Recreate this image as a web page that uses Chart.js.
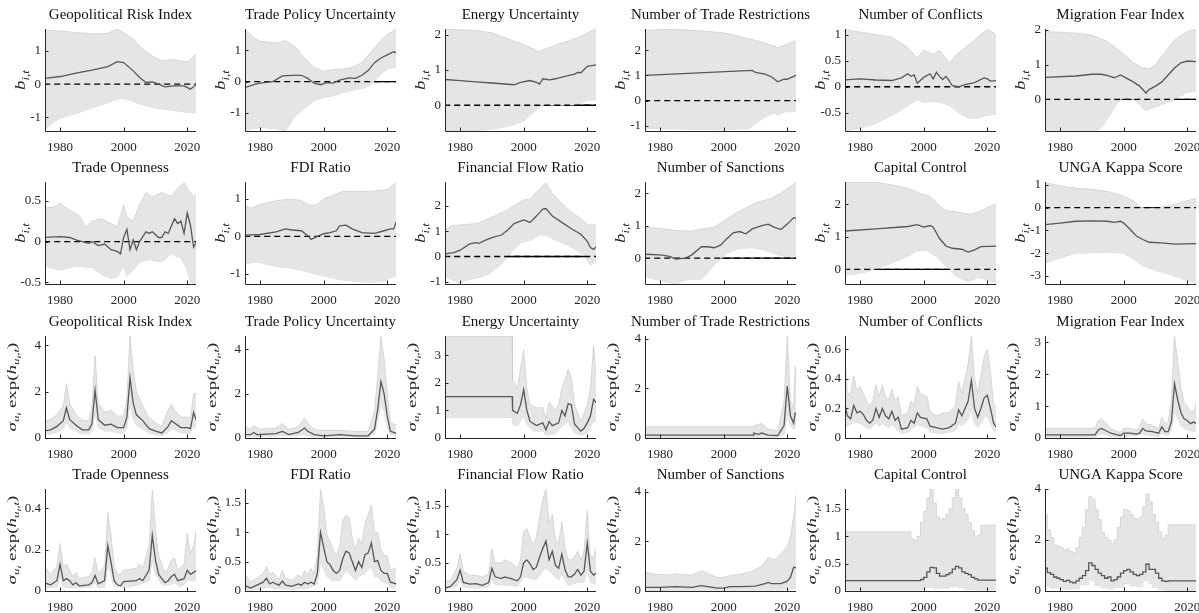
<!DOCTYPE html>
<html>
<head>
<meta charset="utf-8">
<script src="https://cdn.jsdelivr.net/npm/chart.js@4.4.1/dist/chart.umd.min.js"></script>
<style>
  html, body { margin: 0; padding: 0; background: #fff; }
  #fig { position: relative; width: 1199px; height: 613px; overflow: hidden; }
  #fig canvas { position: absolute; }
</style>
</head>
<body>
<div id="fig"></div>
<script>
// ---- data : [year, value] ----
const titles = [
  'Geopolitical Risk Index', 'Trade Policy Uncertainty', 'Energy Uncertainty',
  'Number of Trade Restrictions', 'Number of Conflicts', 'Migration Fear Index',
  'Trade Openness', 'FDI Ratio', 'Financial Flow Ratio',
  'Number of Sanctions', 'Capital Control', 'UNGA Kappa Score'
];
const xTicks = [1980, 2000, 2020];
const xRange = [1975.25, 2022.75];

// row 1-2 : b_{i,t}
const gprB_hi = [[1975,1.62],[1980,1.6],[1985,1.55],[1990,1.52],[1995,1.53],[1998,1.66],[2000,1.55],[2003,1.35],[2006,1.05],[2009,0.85],[2012,0.7],[2015,0.74],[2018,0.7],[2020,0.67],[2023,0.92]];
const gprB_med = [[1975,0.17],[1980,0.23],[1985,0.33],[1990,0.42],[1995,0.53],[1998,0.68],[2000,0.65],[2003,0.4],[2005,0.2],[2007,0.05],[2009,0.07],[2011,0.0],[2013,-0.08],[2016,-0.05],[2019,-0.05],[2021,-0.15],[2023,0.0]];
const gprB_lo = [[1975,-1.41],[1977,-1.2],[1980,-1.02],[1985,-0.88],[1990,-0.72],[1995,-0.55],[1999,-0.42],[2002,-0.48],[2005,-0.6],[2010,-0.72],[2015,-0.78],[2020,-0.85],[2023,-0.87]];

const tpuB_hi = [[1975,1.67],[1978,1.4],[1980,1.28],[1985,1.22],[1988,1.3],[1991,1.1],[1994,0.75],[1997,0.45],[2000,0.33],[2003,0.38],[2006,0.4],[2009,0.45],[2012,0.6],[2015,0.95],[2018,1.3],[2020,1.5],[2023,1.67]];
const tpuB_med = [[1975,-0.2],[1978,-0.1],[1980,-0.05],[1984,0.0],[1987,0.18],[1990,0.2],[1993,0.2],[1995,0.1],[1997,-0.05],[1999,-0.1],[2001,-0.03],[2003,-0.05],[2005,0.05],[2008,0.12],[2010,0.1],[2012,0.2],[2014,0.35],[2016,0.6],[2018,0.75],[2020,0.85],[2022,0.95],[2023,0.9]];
const tpuB_lo = [[1975,-1.55],[1980,-1.45],[1985,-1.5],[1988,-1.57],[1991,-1.1],[1994,-0.85],[1997,-0.6],[2000,-0.5],[2003,-0.45],[2006,-0.35],[2009,-0.28],[2012,-0.22],[2014,-0.15],[2016,0.0],[2018,0.25],[2020,0.4],[2023,0.45]];

const engB_hi = [[1975,2.16],[1985,2.12],[1990,2.05],[1995,1.88],[2000,1.72],[2004,1.55],[2005,1.52],[2007,1.6],[2010,1.7],[2015,1.85],[2018,1.95],[2020,2.05],[2023,2.16]];
const engB_med = [[1975,0.73],[1980,0.7],[1985,0.66],[1990,0.63],[1997,0.58],[1999,0.65],[2002,0.7],[2004,0.65],[2005,0.6],[2006,0.75],[2008,0.72],[2010,0.75],[2013,0.82],[2016,0.88],[2017,0.93],[2018,0.92],[2020,1.1],[2023,1.15]];
const engB_lo = [[1975,-0.72],[1985,-0.72],[1990,-0.68],[1995,-0.6],[2000,-0.45],[2003,-0.2],[2006,0.0],[2010,0.0],[2015,0.0],[2018,0.05],[2020,0.15],[2023,0.15]];

const trrB_hi = [[1975,2.8],[1985,2.85],[1995,2.75],[2000,2.7],[2005,2.55],[2010,2.4],[2015,2.2],[2017,2.1],[2020,2.25],[2023,2.4]];
const trrB_med = [[1975,1.0],[2009,1.2],[2010,1.12],[2013,1.05],[2015,0.95],[2017,0.75],[2019,0.85],[2020,0.85],[2023,1.02]];
const trrB_lo = [[1975,-1.1],[1995,-1.15],[2000,-1.17],[2008,-1.1],[2010,-0.9],[2013,-0.65],[2016,-0.5],[2017,-0.6],[2019,-0.45],[2023,-0.42]];

const conB_hi = [[1975,1.1],[1980,1.05],[1985,1.0],[1990,0.95],[1995,0.75],[1998,0.55],[2000,0.7],[2003,0.62],[2005,0.7],[2007,0.55],[2008,0.45],[2010,0.6],[2013,0.75],[2016,0.9],[2019,1.05],[2020,1.1],[2023,1.0]];
const conB_med = [[1975,0.13],[1980,0.15],[1985,0.13],[1990,0.12],[1993,0.17],[1995,0.25],[1996,0.2],[1997,0.23],[1998,0.07],[2000,0.18],[2002,0.25],[2003,0.15],[2004,0.28],[2005,0.2],[2006,0.14],[2007,0.2],[2008,0.12],[2009,0.02],[2011,0.0],[2013,0.04],[2016,0.08],[2019,0.17],[2020,0.15],[2021,0.11],[2023,0.12]];
const conB_lo = [[1975,-0.85],[1980,-0.8],[1985,-0.7],[1990,-0.55],[1994,-0.4],[1998,-0.25],[2000,-0.3],[2003,-0.28],[2005,-0.3],[2008,-0.35],[2011,-0.5],[2014,-0.6],[2017,-0.6],[2020,-0.55],[2023,-0.52]];

const migB_hi = [[1975,1.95],[1985,1.9],[1990,1.85],[1995,1.65],[2000,1.3],[2003,1.05],[2006,0.9],[2008,0.88],[2010,1.0],[2013,1.35],[2016,1.7],[2020,1.95],[2023,2.02]];
const migB_med = [[1975,0.63],[1985,0.67],[1990,0.72],[1993,0.72],[1995,0.68],[1997,0.62],[1999,0.7],[2001,0.6],[2003,0.5],[2005,0.38],[2007,0.18],[2008,0.28],[2010,0.38],[2012,0.5],[2014,0.7],[2016,0.9],[2018,1.05],[2020,1.1],[2023,1.08]];
const migB_lo = [[1975,-0.91],[1992,-0.9],[1994,-0.7],[1996,-0.4],[1998,-0.1],[2000,0.05],[2002,0.03],[2004,-0.05],[2006,-0.25],[2007,-0.32],[2009,-0.25],[2012,-0.15],[2015,-0.05],[2018,0.1],[2020,0.2],[2023,0.25]];

const topB_hi = [[1975,0.42],[1978,0.42],[1980,0.47],[1983,0.38],[1986,0.32],[1988,0.18],[1990,0.25],[1993,0.28],[1996,0.22],[1998,0.18],[2000,0.45],[2001,0.3],[2003,0.25],[2005,0.45],[2007,0.6],[2009,0.55],[2012,0.6],[2015,0.55],[2017,0.65],[2019,0.72],[2020,0.65],[2022,0.55],[2023,0.6]];
const topB_med = [[1975,0.05],[1980,0.06],[1983,0.05],[1985,0.02],[1987,0.0],[1989,-0.02],[1990,0.0],[1992,-0.05],[1994,-0.03],[1996,-0.1],[1998,-0.12],[1999,-0.15],[2000,0.05],[2001,0.15],[2002,-0.1],[2003,0.02],[2004,-0.1],[2005,0.0],[2007,0.12],[2008,0.1],[2009,0.12],[2011,0.05],[2012,0.05],[2013,0.12],[2014,0.1],[2016,0.28],[2017,0.22],[2018,0.25],[2019,0.1],[2020,0.35],[2021,0.2],[2022,-0.07],[2023,0.0]];
const topB_lo = [[1975,-0.3],[1980,-0.35],[1985,-0.3],[1990,-0.32],[1993,-0.4],[1996,-0.45],[1998,-0.43],[2000,-0.3],[2001,-0.42],[2003,-0.35],[2005,-0.25],[2008,-0.22],[2012,-0.25],[2015,-0.15],[2018,-0.2],[2020,-0.35],[2021,-0.5],[2023,-0.52]];

const fdiB_hi = [[1975,0.85],[1977,0.75],[1980,0.85],[1985,0.95],[1990,1.0],[1993,0.95],[1996,0.82],[1998,0.85],[2000,1.0],[2003,1.1],[2006,1.2],[2010,1.2],[2015,1.2],[2020,1.25],[2023,1.45]];
const fdiB_med = [[1975,0.03],[1980,0.05],[1985,0.12],[1988,0.2],[1990,0.17],[1993,0.15],[1995,0.02],[1996,-0.08],[1998,0.0],[2000,0.07],[2002,0.1],[2004,0.15],[2005,0.28],[2007,0.3],[2009,0.2],[2012,0.1],[2016,0.08],[2019,0.15],[2021,0.2],[2022,0.2],[2023,0.42]];
const fdiB_lo = [[1975,-0.75],[1978,-0.68],[1980,-0.7],[1985,-0.8],[1990,-0.85],[1995,-0.95],[2000,-1.05],[2005,-1.15],[2010,-1.2],[2015,-1.22],[2019,-1.2],[2021,-1.1],[2023,-1.05]];

const ffrB_hi = [[1975,1.0],[1977,1.2],[1980,1.25],[1985,1.3],[1990,1.55],[1995,1.85],[2000,2.25],[2002,2.25],[2004,2.55],[2006,2.8],[2007,2.92],[2009,2.5],[2012,2.1],[2015,1.75],[2018,1.5],[2020,1.25],[2023,1.25]];
const ffrB_med = [[1975,0.1],[1978,0.15],[1980,0.25],[1983,0.5],[1985,0.55],[1986,0.52],[1988,0.65],[1990,0.75],[1993,0.85],[1995,1.05],[1997,1.3],[2000,1.45],[2002,1.35],[2004,1.6],[2006,1.88],[2007,1.9],[2009,1.6],[2012,1.35],[2015,1.1],[2018,0.88],[2020,0.6],[2021,0.35],[2022,0.28],[2023,0.4]];
const ffrB_lo = [[1975,-0.75],[1977,-0.9],[1980,-1.05],[1983,-0.9],[1985,-0.85],[1988,-0.75],[1990,-0.6],[1993,-0.3],[1996,0.15],[1999,0.55],[2001,0.6],[2003,0.7],[2005,0.85],[2007,0.85],[2010,0.65],[2013,0.5],[2016,0.3],[2019,0.05],[2021,-0.35],[2023,-0.2]];

const sanB_hi = [[1975,0.95],[1980,0.92],[1985,0.85],[1990,0.83],[1993,0.9],[1997,0.95],[2000,1.15],[2005,1.45],[2010,1.7],[2015,1.85],[2018,2.0],[2020,2.15],[2023,2.35]];
const sanB_med = [[1975,0.12],[1980,0.1],[1983,0.05],[1985,-0.03],[1988,0.0],[1990,0.1],[1993,0.35],[1995,0.35],[1997,0.32],[1999,0.4],[2001,0.6],[2003,0.78],[2005,0.82],[2007,0.75],[2009,0.9],[2012,1.0],[2014,1.05],[2016,0.95],[2018,0.88],[2020,1.05],[2022,1.25],[2023,1.22]];
const sanB_lo = [[1975,-0.55],[1980,-0.7],[1985,-0.8],[1989,-0.65],[1993,-0.65],[1995,-0.45],[1998,-0.1],[2001,0.15],[2005,0.3],[2009,0.32],[2013,0.25],[2017,0.1],[2020,0.05],[2023,0.1]];

const capB_hi = [[1975,2.68],[1985,2.68],[1990,2.6],[1995,2.5],[2000,2.3],[2002,2.25],[2004,2.05],[2007,1.8],[2010,1.78],[2013,1.72],[2015,1.7],[2018,1.8],[2020,1.9],[2023,2.02]];
const capB_med = [[1975,1.18],[1985,1.25],[1995,1.32],[1998,1.38],[2000,1.3],[2002,1.35],[2003,1.3],[2005,0.95],[2007,0.72],[2009,0.65],[2012,0.62],[2014,0.53],[2016,0.6],[2018,0.7],[2023,0.72]];
const capB_lo = [[1975,-0.18],[1980,-0.12],[1985,0.0],[1990,0.2],[1995,0.4],[1998,0.58],[2001,0.58],[2004,0.4],[2007,0.1],[2010,-0.2],[2014,-0.38],[2017,-0.25],[2019,-0.28],[2023,-0.45]];

const ungB_hi = [[1975,1.1],[1980,0.95],[1985,0.85],[1990,0.8],[1995,0.7],[2000,0.5],[2003,0.3],[2005,0.05],[2007,-0.05],[2010,-0.02],[2015,0.1],[2020,0.3],[2023,0.4]];
const ungB_med = [[1975,-0.75],[1980,-0.68],[1985,-0.6],[1990,-0.58],[1995,-0.6],[1997,-0.65],[1999,-0.6],[2000,-0.68],[2002,-0.95],[2004,-1.25],[2006,-1.4],[2008,-1.52],[2012,-1.55],[2016,-1.6],[2023,-1.58]];
const ungB_lo = [[1975,-2.45],[1980,-2.2],[1985,-2.0],[1990,-1.98],[1995,-1.95],[2000,-2.0],[2003,-2.25],[2006,-2.55],[2010,-2.75],[2015,-2.95],[2020,-3.2],[2023,-3.35]];

// row 3-4 : sigma_{u_i} exp(h_{u_i,t})
const gprS_hi = [[1975,0.75],[1977,0.8],[1979,1.0],[1981,1.4],[1982,2.35],[1983,1.5],[1985,1.0],[1987,0.75],[1989,0.75],[1990,1.3],[1991,3.55],[1992,1.5],[1994,1.1],[1996,1.2],[1998,0.95],[2000,0.95],[2001,1.7],[2002,4.4],[2003,2.9],[2004,2.0],[2006,1.4],[2008,0.85],[2010,0.65],[2012,0.5],[2014,1.2],[2015,1.45],[2016,1.2],[2018,0.9],[2020,0.9],[2021,0.85],[2022,1.9],[2023,1.95]];
const gprS_med = [[1975,0.3],[1977,0.35],[1979,0.5],[1981,0.75],[1982,1.3],[1983,0.8],[1985,0.55],[1987,0.35],[1989,0.35],[1990,0.6],[1991,2.05],[1992,0.8],[1994,0.55],[1996,0.6],[1998,0.45],[2000,0.45],[2001,0.9],[2002,2.6],[2003,1.5],[2004,1.0],[2006,0.75],[2008,0.4],[2010,0.3],[2012,0.22],[2014,0.5],[2015,0.75],[2016,0.65],[2018,0.45],[2020,0.45],[2021,0.4],[2022,1.1],[2023,0.7]];
const gprS_lo = [[1975,0.15],[1977,0.18],[1979,0.25],[1981,0.4],[1982,0.7],[1983,0.45],[1985,0.3],[1987,0.18],[1989,0.18],[1990,0.3],[1991,1.1],[1992,0.45],[1994,0.3],[1996,0.3],[1998,0.22],[2000,0.22],[2001,0.45],[2002,1.5],[2003,0.8],[2004,0.55],[2006,0.4],[2008,0.2],[2010,0.15],[2012,0.1],[2014,0.25],[2015,0.4],[2016,0.35],[2018,0.22],[2020,0.22],[2021,0.2],[2022,0.55],[2023,0.3]];

const tpuS_hi = [[1975,0.5],[1977,0.4],[1978,0.55],[1980,0.4],[1985,0.45],[1987,0.65],[1989,0.4],[1992,0.5],[1994,0.9],[1996,0.5],[1998,0.35],[2005,0.35],[2010,0.3],[2014,0.3],[2016,1.2],[2017,2.8],[2018,4.6],[2019,3.6],[2020,2.0],[2021,0.7],[2023,0.55]];
const tpuS_med = [[1975,0.15],[1977,0.15],[1978,0.25],[1979,0.15],[1985,0.2],[1987,0.3],[1989,0.15],[1992,0.25],[1994,0.45],[1995,0.3],[1997,0.15],[2000,0.1],[2005,0.15],[2010,0.1],[2014,0.1],[2016,0.4],[2017,1.3],[2018,2.55],[2019,2.0],[2020,1.0],[2021,0.3],[2023,0.2]];
const tpuS_lo = [[1975,0.05],[1987,0.1],[1994,0.15],[1997,0.05],[2014,0.04],[2016,0.2],[2017,0.8],[2018,1.5],[2019,1.2],[2020,0.5],[2021,0.15],[2023,0.1]];

const engS_hi = [[1975,3.7],[1996.4,3.7],[1996.5,2.1],[1998,1.8],[1999,2.5],[2000,3.2],[2001,1.8],[2002,1.2],[2004,1.1],[2006,1.1],[2007,0.7],[2008,1.3],[2010,1.0],[2011,1.2],[2012,1.8],[2013,2.1],[2014,2.5],[2015,2.2],[2016,1.2],[2018,0.6],[2019,0.9],[2020,1.2],[2021,1.8],[2022,3.35],[2023,2.0]];
const engS_med = [[1975,1.5],[1996.4,1.5],[1996.5,1.0],[1998,0.9],[1999,1.2],[2000,1.75],[2001,1.0],[2002,0.6],[2004,0.45],[2006,0.55],[2007,0.3],[2008,0.6],[2009,0.45],[2011,0.55],[2012,1.0],[2013,0.8],[2014,1.25],[2015,1.2],[2016,0.5],[2018,0.25],[2019,0.35],[2020,0.55],[2021,0.8],[2022,1.4],[2023,1.25]];
const engS_lo = [[1975,0.75],[1996.4,0.75],[1996.5,0.5],[1998,0.45],[2000,0.8],[2001,0.5],[2003,0.25],[2006,0.25],[2007,0.1],[2010,0.15],[2012,0.45],[2014,0.6],[2016,0.2],[2018,0.1],[2020,0.2],[2022,0.6],[2023,0.55]];

const trrS_hi = [[1975,0.45],[2009.4,0.45],[2009.5,0.5],[2011,0.55],[2012,0.6],[2014,0.35],[2017,0.3],[2019,1.5],[2020,4.1],[2021,1.5],[2022,1.2],[2022.5,2.9],[2023,1.8]];
const trrS_med = [[1975,0.12],[2009.4,0.12],[2009.5,0.2],[2011,0.15],[2012,0.2],[2014,0.12],[2017,0.1],[2019,0.5],[2020,2.1],[2021,0.9],[2022,0.6],[2022.5,1.0],[2023,0.95]];
const trrS_lo = [[1975,0.02],[2017,0.03],[2019,0.15],[2020,1.0],[2021,0.5],[2022,0.35],[2023,0.5]];

const conS_hi = [[1975,0.65],[1976,0.3],[1977,0.3],[1978,0.42],[1979,0.32],[1980,0.35],[1981,0.3],[1982,0.25],[1983,0.22],[1984,0.25],[1985,0.36],[1986,0.28],[1987,0.36],[1988,0.28],[1989,0.26],[1990,0.33],[1991,0.25],[1992,0.28],[1993,0.15],[1995,0.17],[1996,0.25],[1997,0.22],[1998,0.35],[1999,0.3],[2001,0.28],[2002,0.18],[2004,0.15],[2006,0.17],[2008,0.17],[2010,0.22],[2011,0.38],[2012,0.3],[2013,0.4],[2014,0.5],[2015,0.69],[2016,0.4],[2017,0.3],[2018,0.42],[2019,0.55],[2020,0.6],[2021,0.45],[2022,0.22],[2023,0.22]];
const conS_med = [[1975,0.25],[1976,0.15],[1977,0.13],[1978,0.22],[1979,0.17],[1980,0.18],[1981,0.16],[1982,0.12],[1983,0.1],[1984,0.12],[1985,0.2],[1986,0.14],[1987,0.2],[1988,0.15],[1989,0.13],[1990,0.18],[1991,0.12],[1992,0.14],[1993,0.06],[1995,0.07],[1996,0.12],[1997,0.1],[1998,0.17],[1999,0.14],[2001,0.13],[2002,0.08],[2004,0.07],[2006,0.06],[2008,0.07],[2010,0.1],[2011,0.19],[2012,0.15],[2013,0.2],[2014,0.25],[2015,0.39],[2016,0.2],[2017,0.14],[2018,0.2],[2019,0.27],[2020,0.29],[2021,0.2],[2022,0.1],[2023,0.07]];
const conS_lo = [[1975,0.12],[1976,0.08],[1978,0.11],[1980,0.1],[1982,0.07],[1983,0.06],[1985,0.1],[1986,0.08],[1987,0.1],[1989,0.07],[1990,0.09],[1993,0.03],[1995,0.04],[1996,0.06],[1998,0.09],[2001,0.07],[2002,0.04],[2006,0.03],[2008,0.04],[2010,0.05],[2011,0.1],[2012,0.08],[2013,0.1],[2014,0.13],[2015,0.2],[2016,0.1],[2017,0.07],[2018,0.1],[2019,0.14],[2020,0.15],[2021,0.1],[2022,0.05],[2023,0.03]];

const migS_hi = [[1975,0.3],[1991,0.3],[1992,0.55],[1993,0.6],[1994,0.5],[1996,0.3],[1998,0.2],[1999,0.18],[2000,0.3],[2002,0.3],[2004,0.25],[2005,0.35],[2006,0.6],[2007,0.45],[2009,0.4],[2011,0.3],[2012,0.65],[2013,0.45],[2014,0.5],[2015,1.2],[2016,3.2],[2017,2.4],[2018,1.6],[2019,1.1],[2020,1.0],[2021,0.85],[2022,0.8],[2023,1.2]];
const migS_med = [[1975,0.1],[1991,0.1],[1992,0.25],[1993,0.3],[1994,0.25],[1996,0.15],[1998,0.1],[1999,0.08],[2000,0.15],[2002,0.15],[2004,0.12],[2005,0.15],[2006,0.3],[2007,0.22],[2009,0.2],[2011,0.15],[2012,0.35],[2013,0.2],[2014,0.2],[2015,0.5],[2016,1.7],[2017,1.2],[2018,0.8],[2019,0.6],[2020,0.55],[2021,0.45],[2022,0.5],[2023,0.45]];
const migS_lo = [[1975,0.03],[1991,0.03],[1992,0.1],[1993,0.15],[1996,0.06],[1999,0.03],[2006,0.12],[2011,0.05],[2012,0.15],[2014,0.08],[2015,0.25],[2016,0.85],[2017,0.6],[2018,0.4],[2019,0.3],[2020,0.25],[2022,0.2],[2023,0.2]];

const topS_hi = [[1975,0.12],[1977,0.08],[1979,0.12],[1980,0.23],[1981,0.12],[1982,0.13],[1983,0.1],[1984,0.07],[1985,0.09],[1986,0.06],[1989,0.07],[1990,0.09],[1991,0.16],[1992,0.08],[1994,0.12],[1995,0.38],[1996,0.27],[1997,0.12],[1998,0.08],[1999,0.08],[2000,0.1],[2004,0.11],[2005,0.13],[2006,0.11],[2008,0.22],[2009,0.49],[2010,0.3],[2011,0.17],[2012,0.13],[2013,0.09],[2014,0.11],[2015,0.15],[2016,0.16],[2017,0.1],[2019,0.13],[2020,0.28],[2021,0.18],[2022,0.22],[2023,0.31]];
const topS_med = [[1975,0.04],[1977,0.03],[1979,0.05],[1980,0.13],[1981,0.05],[1982,0.06],[1983,0.05],[1984,0.03],[1985,0.04],[1986,0.025],[1989,0.03],[1990,0.04],[1991,0.075],[1992,0.035],[1994,0.05],[1995,0.22],[1996,0.14],[1997,0.05],[1998,0.03],[1999,0.025],[2000,0.045],[2004,0.05],[2005,0.06],[2006,0.05],[2008,0.1],[2009,0.27],[2010,0.15],[2011,0.08],[2012,0.06],[2013,0.04],[2014,0.05],[2015,0.07],[2016,0.08],[2017,0.05],[2019,0.06],[2020,0.1],[2021,0.08],[2022,0.09],[2023,0.1]];
const topS_lo = [[1975,0.015],[1979,0.02],[1980,0.07],[1981,0.02],[1985,0.015],[1990,0.02],[1991,0.04],[1992,0.015],[1994,0.02],[1995,0.12],[1996,0.08],[1997,0.02],[2000,0.02],[2005,0.03],[2008,0.05],[2009,0.15],[2010,0.08],[2012,0.03],[2015,0.03],[2016,0.04],[2018,0.02],[2020,0.05],[2023,0.05]];

const fdiS_hi = [[1975,0.3],[1977,0.15],[1979,0.22],[1981,0.3],[1982,0.42],[1983,0.28],[1984,0.32],[1985,0.25],[1986,0.2],[1987,0.35],[1988,0.22],[1990,0.18],[1992,0.28],[1993,0.22],[1994,0.35],[1995,0.28],[1996,0.38],[1997,0.3],[1998,0.6],[1999,1.73],[2000,1.45],[2001,0.95],[2002,0.85],[2003,0.7],[2004,0.6],[2005,0.75],[2006,1.2],[2007,1.3],[2008,1.25],[2009,0.9],[2010,0.7],[2011,0.9],[2012,0.8],[2013,1.15],[2014,1.3],[2015,1.47],[2016,1.0],[2017,1.0],[2018,0.7],[2019,0.6],[2020,0.6],[2021,0.35],[2023,0.4]];
const fdiS_med = [[1975,0.1],[1977,0.05],[1979,0.1],[1981,0.15],[1982,0.22],[1983,0.12],[1984,0.15],[1985,0.12],[1986,0.1],[1987,0.17],[1988,0.1],[1990,0.08],[1992,0.12],[1993,0.1],[1994,0.15],[1995,0.12],[1996,0.15],[1997,0.12],[1998,0.3],[1999,1.0],[2000,0.75],[2001,0.5],[2002,0.45],[2003,0.35],[2004,0.3],[2005,0.35],[2006,0.55],[2007,0.68],[2008,0.65],[2009,0.5],[2010,0.35],[2011,0.5],[2012,0.4],[2013,0.62],[2014,0.65],[2015,0.82],[2016,0.5],[2017,0.52],[2018,0.35],[2019,0.3],[2020,0.3],[2021,0.15],[2023,0.12]];
const fdiS_lo = [[1975,0.03],[1977,0.01],[1980,0.03],[1982,0.07],[1985,0.04],[1990,0.03],[1995,0.05],[1998,0.12],[1999,0.5],[2000,0.38],[2001,0.25],[2003,0.17],[2005,0.18],[2007,0.35],[2009,0.25],[2010,0.17],[2011,0.25],[2013,0.3],[2015,0.42],[2016,0.25],[2017,0.25],[2018,0.17],[2020,0.13],[2021,0.06],[2023,0.05]];

const ffrS_hi = [[1975,0.15],[1977,0.2],[1979,0.4],[1980,0.66],[1981,0.35],[1983,0.28],[1985,0.28],[1987,0.25],[1989,0.3],[1990,0.75],[1991,0.5],[1993,0.5],[1994,0.55],[1996,0.5],[1998,0.4],[1999,0.55],[2000,1.05],[2001,1.1],[2002,0.95],[2003,0.8],[2004,0.95],[2005,1.3],[2006,1.6],[2007,1.82],[2008,1.2],[2009,1.35],[2010,0.9],[2011,0.85],[2012,1.22],[2013,0.75],[2014,0.55],[2015,0.55],[2016,0.6],[2017,0.7],[2018,0.55],[2019,0.7],[2020,1.42],[2021,0.6],[2022,0.6],[2023,0.8]];
const ffrS_med = [[1975,0.05],[1977,0.08],[1979,0.2],[1980,0.37],[1981,0.15],[1983,0.12],[1985,0.13],[1987,0.1],[1989,0.15],[1990,0.4],[1991,0.25],[1993,0.22],[1994,0.25],[1996,0.22],[1998,0.18],[1999,0.25],[2000,0.5],[2001,0.55],[2002,0.48],[2003,0.38],[2004,0.42],[2005,0.6],[2006,0.75],[2007,0.88],[2008,0.55],[2009,0.7],[2010,0.45],[2011,0.4],[2012,0.65],[2013,0.38],[2014,0.25],[2015,0.25],[2016,0.3],[2017,0.38],[2018,0.28],[2019,0.35],[2020,0.85],[2021,0.35],[2022,0.28],[2023,0.32]];
const ffrS_lo = [[1975,0.02],[1979,0.08],[1980,0.18],[1981,0.07],[1985,0.05],[1989,0.07],[1990,0.2],[1991,0.12],[1995,0.1],[1998,0.08],[2000,0.25],[2002,0.22],[2004,0.2],[2006,0.35],[2007,0.4],[2009,0.3],[2011,0.2],[2012,0.3],[2014,0.1],[2017,0.15],[2019,0.15],[2020,0.4],[2021,0.15],[2023,0.12]];

const sanS_hi = [[1975,0.78],[1978,0.68],[1983,0.65],[1985,0.7],[1988,0.65],[1990,0.65],[1993,0.82],[1995,0.7],[1998,0.55],[2000,0.55],[2003,0.65],[2006,0.7],[2009,0.8],[2012,1.0],[2014,1.35],[2016,1.25],[2018,1.5],[2020,1.8],[2021,2.2],[2022,3.0],[2023,4.1]];
const sanS_med = [[1975,0.15],[1980,0.15],[1985,0.18],[1990,0.15],[1993,0.22],[1995,0.18],[1998,0.12],[2000,0.12],[2002,0.18],[2005,0.18],[2010,0.2],[2013,0.3],[2014,0.35],[2015,0.3],[2018,0.3],[2020,0.4],[2021,0.55],[2022,0.95],[2023,0.95]];
const sanS_lo = [[1975,0.03],[2018,0.04],[2020,0.05],[2022,0.1],[2023,0.1]];

const capS_hi = [[1975,1.08],[1996,1.08],[1997,0.95],[1998,0.92],[1999,1.0],[2000,1.25],[2001,1.45],[2002,1.7],[2003,1.85],[2004,1.6],[2005,1.35],[2006,1.3],[2007,1.32],[2008,1.4],[2009,1.5],[2010,1.7],[2011,1.85],[2012,1.7],[2013,1.5],[2014,1.4],[2015,1.25],[2016,1.1],[2017,1.0],[2018,1.02],[2019,1.2],[2023,1.2]];
const capS_med = [[1975,0.18],[1999,0.19],[2000,0.21],[2001,0.25],[2002,0.35],[2003,0.43],[2004,0.42],[2005,0.32],[2006,0.27],[2007,0.27],[2008,0.3],[2009,0.33],[2010,0.4],[2011,0.45],[2012,0.42],[2013,0.35],[2014,0.32],[2015,0.3],[2016,0.25],[2017,0.22],[2018,0.2],[2023,0.2]];
const capS_lo = [[1975,0.02],[1999,0.02],[2000,0.03],[2002,0.06],[2003,0.07],[2005,0.05],[2008,0.05],[2010,0.08],[2011,0.09],[2013,0.06],[2016,0.03],[2019,0.02],[2023,0.02]];

const ungS_hi = [[1975,4.0],[1976,3.0],[1977,2.4],[1978,2.1],[1979,1.8],[1980,1.75],[1981,1.7],[1982,1.6],[1983,1.65],[1984,1.55],[1985,1.5],[1986,1.7],[1987,2.1],[1988,2.5],[1989,3.2],[1990,3.7],[1991,3.6],[1992,3.2],[1993,2.8],[1994,2.3],[1995,2.1],[1996,2.0],[1997,1.85],[1998,2.0],[1999,2.5],[2000,2.9],[2001,3.2],[2002,3.15],[2003,3.0],[2004,2.85],[2005,2.8],[2006,2.9],[2007,3.3],[2008,3.8],[2009,3.5],[2010,3.0],[2011,2.7],[2012,2.3],[2013,2.05],[2014,2.2],[2015,2.6],[2023,2.6]];
const ungS_med = [[1975,0.9],[1976,0.9],[1977,0.72],[1978,0.65],[1979,0.55],[1980,0.5],[1981,0.45],[1982,0.38],[1983,0.42],[1984,0.35],[1985,0.32],[1986,0.4],[1987,0.5],[1988,0.6],[1989,0.8],[1990,1.1],[1991,1.0],[1992,0.85],[1993,0.7],[1994,0.6],[1995,0.5],[1996,0.55],[1997,0.4],[1998,0.45],[1999,0.55],[2000,0.7],[2001,0.8],[2002,0.85],[2003,0.75],[2004,0.65],[2005,0.6],[2006,0.65],[2007,0.75],[2008,1.05],[2009,0.85],[2010,0.85],[2011,0.7],[2012,0.5],[2013,0.4],[2014,0.38],[2015,0.4],[2023,0.4]];
const ungS_lo = [[1975,0.25],[1977,0.2],[1980,0.12],[1984,0.08],[1986,0.1],[1989,0.25],[1990,0.45],[1991,0.4],[1993,0.2],[1995,0.12],[1997,0.08],[2000,0.15],[2002,0.3],[2004,0.2],[2006,0.18],[2008,0.4],[2009,0.3],[2011,0.15],[2013,0.05],[2015,0.03],[2023,0.03]];

// y ticks and y limits, panel order = row by row
const yTicks = [
  [-1,0,1], [-1,0,1], [0,1,2], [-1,0,1,2], [-0.5,0,0.5,1], [0,1,2],
  [-0.5,0,0.5], [-1,0,1], [-1,0,1,2], [0,1,2], [0,1,2], [-3,-2,-1,0,1],
  [0,2,4], [0,2,4], [0,1,2,3], [0,2,4], [0,0.2,0.4,0.6], [0,1,2,3],
  [0,0.2,0.4], [0,0.5,1,1.5], [0,0.5,1,1.5], [0,2,4], [0,0.5,1,1.5], [0,2,4]
];
const yLimits = [
  [-1.41,1.66], [-1.57,1.67], [-0.73,2.16], [-1.21,2.85], [-0.85,1.11], [-0.91,2.02],
  [-0.52,0.73], [-1.27,1.45], [-1.09,2.95], [-0.8,2.35], [-0.45,2.69], [-3.35,1.12],
  [0,4.4], [0,4.6], [0,3.7], [0,4.12], [0,0.69], [0,3.2],
  [0,0.494], [0,1.74], [0,1.8], [0,4.12], [0,1.86], [0,4.0]
];
const zeroLine = [[1975, 0], [2023, 0]];

const bands = [
  [gprB_lo, gprB_med, gprB_hi], [tpuB_lo, tpuB_med, tpuB_hi], [engB_lo, engB_med, engB_hi],
  [trrB_lo, trrB_med, trrB_hi], [conB_lo, conB_med, conB_hi], [migB_lo, migB_med, migB_hi],
  [topB_lo, topB_med, topB_hi], [fdiB_lo, fdiB_med, fdiB_hi], [ffrB_lo, ffrB_med, ffrB_hi],
  [sanB_lo, sanB_med, sanB_hi], [capB_lo, capB_med, capB_hi], [ungB_lo, ungB_med, ungB_hi],
  [gprS_lo, gprS_med, gprS_hi], [tpuS_lo, tpuS_med, tpuS_hi], [engS_lo, engS_med, engS_hi],
  [trrS_lo, trrS_med, trrS_hi], [conS_lo, conS_med, conS_hi], [migS_lo, migS_med, migS_hi],
  [topS_lo, topS_med, topS_hi], [fdiS_lo, fdiS_med, fdiS_hi], [ffrS_lo, ffrS_med, ffrS_hi],
  [sanS_lo, sanS_med, sanS_hi], [capS_lo, capS_med, capS_hi], [ungS_lo, ungS_med, ungS_hi]
];

// ---- drawing ----
const FONT = "'Liberation Serif', 'Times New Roman', serif";
const AXIS = '#262626';
const BAND = '#e5e5e5';
const EDGE = '#cfcfcf';
const MED = '#575757';
const CELL_W = 200, CANVAS_W = 232, CELL_H = 153;
const rowTop = [0, 153, 307, 460];

// y label pieces: [text, italic, level]
const labB = { parts: [['b', true, 0], ['i,t', true, 1]], size: [15, 10.5, 8], drop: [0, 3.5, 6], base: 25, stretch: 1.25 };
const labS = {
  parts: [['σ', true, 0], ['u', true, 1], ['i', true, 2], [' exp(', false, 0],
          ['h', true, 0], ['u', true, 1], ['i', true, 2], [',t', true, 1], [')', false, 0]],
  size: [13, 9, 7], drop: [0, 3, 5], base: 15.5, stretch: 1.45
};

const deco = {
  id: 'deco',
  afterDatasetsDraw(chart, args, o) {
    const { ctx, chartArea: a, scales } = chart;
    ctx.save();
    ctx.strokeStyle = AXIS;
    ctx.lineWidth = 1;
    ctx.beginPath();
    ctx.moveTo(a.left + 0.5, a.top);
    ctx.lineTo(a.left + 0.5, a.bottom + 0.5);
    ctx.lineTo(a.right, a.bottom + 0.5);
    scales.y.ticks.forEach(t => {
      const y = Math.round(scales.y.getPixelForValue(t.value)) + 0.5;
      ctx.moveTo(a.left, y); ctx.lineTo(a.left + 3.5, y);
    });
    scales.x.ticks.forEach(t => {
      const x = Math.round(scales.x.getPixelForValue(t.value)) + 0.5;
      ctx.moveTo(x, a.bottom); ctx.lineTo(x, a.bottom - 3.5);
    });
    ctx.stroke();

    // title over the plot area
    ctx.fillStyle = '#111';
    ctx.font = `15px ${FONT}`;
    ctx.textAlign = 'center';
    ctx.textBaseline = 'middle';
    ctx.fillText(o.title, (a.left + a.right) / 2, 15);

    // rotated y label with subscripts
    const lab = o.kind === 'b' ? labB : labS;
    const fontOf = p => `${p[1] ? 'italic ' : ''}${lab.size[p[2]]}px ${FONT}`;
    let total = 0;
    const widths = lab.parts.map(p => { ctx.font = fontOf(p); const w = ctx.measureText(p[0]).width; total += w; return w; });
    ctx.translate(lab.base, (a.top + a.bottom) / 2);
    ctx.rotate(-Math.PI / 2);
    ctx.scale(lab.stretch, 1);
    ctx.textAlign = 'left';
    ctx.textBaseline = 'alphabetic';
    ctx.fillStyle = AXIS;
    let x = -total / 2;
    lab.parts.forEach((p, i) => {
      ctx.font = fontOf(p);
      ctx.fillText(p[0], x, lab.drop[p[2]]);
      x += widths[i];
    });
    ctx.restore();
  }
};

function makePanel(i) {
  const row = Math.floor(i / 6), col = i % 6;
  const kind = row < 2 ? 'b' : 's';
  const [lo, med, hi] = bands[i];
  const stepped = (i === 22 || i === 23) ? 'after' : false;

  const canvas = document.createElement('canvas');
  canvas.width = CANVAS_W;
  canvas.height = CELL_H;
  canvas.style.left = (col * CELL_W) + 'px';
  canvas.style.top = rowTop[row] + 'px';
  document.getElementById('fig').appendChild(canvas);

  const line = (data, extra) => Object.assign({
    data, pointRadius: 0, fill: false, tension: 0, stepped
  }, extra);

  const datasets = [line(med, { borderColor: MED, borderWidth: 1.3, order: 0 })];
  if (kind === 'b') {
    datasets.push(line(zeroLine, { borderColor: '#000', borderWidth: 1.3, borderDash: [6, 4], order: 1, stepped: false }));
  }
  datasets.push(line(hi, { borderColor: EDGE, borderWidth: 0.8, backgroundColor: BAND, fill: '+1', order: 2 }));
  datasets.push(line(lo, { borderColor: EDGE, borderWidth: 0.8, order: 3 }));
  if (kind === 'b') {
    datasets.push(line(zeroLine, { borderColor: '#000', borderWidth: 1.3, order: 4, stepped: false }));
  }

  const tickFont = { family: FONT, size: 13 };
  new Chart(canvas, {
    type: 'line',
    data: { datasets },
    options: {
      responsive: false,
      animation: false,
      events: [],
      layout: { padding: { top: 29, right: CANVAS_W - 196, left: 0, bottom: 0 } },
      plugins: {
        legend: { display: false },
        tooltip: { enabled: false },
        deco: { title: titles[i % 12], kind }
      },
      scales: {
        x: {
          type: 'linear', min: xRange[0], max: xRange[1],
          afterBuildTicks: s => { s.ticks = xTicks.map(v => ({ value: v })); },
          afterFit: s => { s.height = 22; },
          grid: { display: false, drawTicks: false },
          border: { display: false },
          ticks: { font: tickFont, color: AXIS, padding: 9, autoSkip: false, maxRotation: 0, callback: v => String(v) }
        },
        y: {
          type: 'linear', min: yLimits[i][0], max: yLimits[i][1],
          afterBuildTicks: s => { s.ticks = yTicks[i].map(v => ({ value: v })); },
          afterFit: s => { s.width = 45; },
          grid: { display: false, drawTicks: false },
          border: { display: false },
          ticks: { font: tickFont, color: AXIS, padding: 4, autoSkip: false, callback: v => String(v) }
        }
      }
    },
    plugins: [deco]
  });
}

for (let i = 0; i < 24; i++) makePanel(i);
</script>
</body>
</html>
